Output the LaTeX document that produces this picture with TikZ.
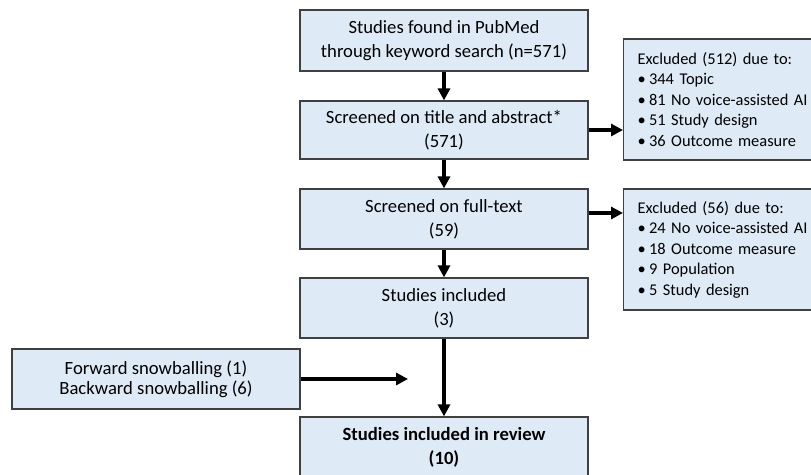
\documentclass[tikz,border=0pt]{standalone}
\usepackage{fontspec}
\setmainfont{Carlito}
\usetikzlibrary{arrows.meta}

\definecolor{boxfill}{HTML}{DEEBF7}
\definecolor{boxline}{HTML}{404040}

\newcommand{\exclitem}{\\\textbullet\hspace{2.5pt}}

\tikzset{
  flowbox/.style={draw=boxline, fill=boxfill, line width=0.9pt, minimum width=216pt,
    minimum height=45pt, align=center, font=\fontsize{14}{18}\selectfont},
  exclbox/.style={draw=boxline, fill=boxfill, line width=0.9pt, anchor=west,
    minimum height=90.75pt, inner xsep=10.5pt, text width=135pt, align=left,
    font=\fontsize{12.3}{15.4}\selectfont},
  flowarrow/.style={line width=3pt, -{Triangle[width=9pt,length=9pt]}}
}

\begin{document}
\begin{tikzpicture}[x=0.75pt,y=-0.75pt]
  \useasboundingbox (0,0) rectangle (811,475);

  % main column
  \node[flowbox, minimum height=45.75pt] (found) at (444,40.5) {Studies found in PubMed\\through keyword search (n=571)};
  \node[flowbox, minimum height=43.5pt] (title) at (444,130) {Screened on title and abstract*\\(571)};
  \node[flowbox] (full) at (444,219) {Screened on full-text\\(59)};
  \node[flowbox] (incl) at (444,308) {Studies included\\(3)};
  \node[flowbox, font=\fontsize{14}{18}\selectfont\bfseries] (review) at (444,447) {Studies included in review\\(10)};

  % side boxes
  \node[flowbox, font=\fontsize{14}{15}\selectfont] (snow) at (156,379) {Forward snowballing (1)\\Backward snowballing (6)};
  \node[exclbox] (excltitle) at (623,99.5) {Excluded (512) due to:\exclitem 344 Topic\exclitem 81 No voice-assisted AI\exclitem 51 Study design\exclitem 36 Outcome measure};
  \node[exclbox] (exclfull) at (623,249.5) {Excluded (56) due to:\exclitem 24 No voice-assisted AI\exclitem 18 Outcome measure\exclitem 9 Population\exclitem 5 Study design};
  \coordinate (snowtip) at (408,379);

  \draw[flowarrow] (found) -- (title);
  \draw[flowarrow] (title) -- (full);
  \draw[flowarrow] (full) -- (incl);
  \draw[flowarrow] (incl) -- (review);
  \draw[flowarrow] (title.east) -- (title.east -| excltitle.west);
  \draw[flowarrow] ([yshift=4.5pt]full.east) -- ([yshift=4.5pt]full.east -| exclfull.west);
  \draw[flowarrow] (snow.east) -- (snowtip);
\end{tikzpicture}
\end{document}
